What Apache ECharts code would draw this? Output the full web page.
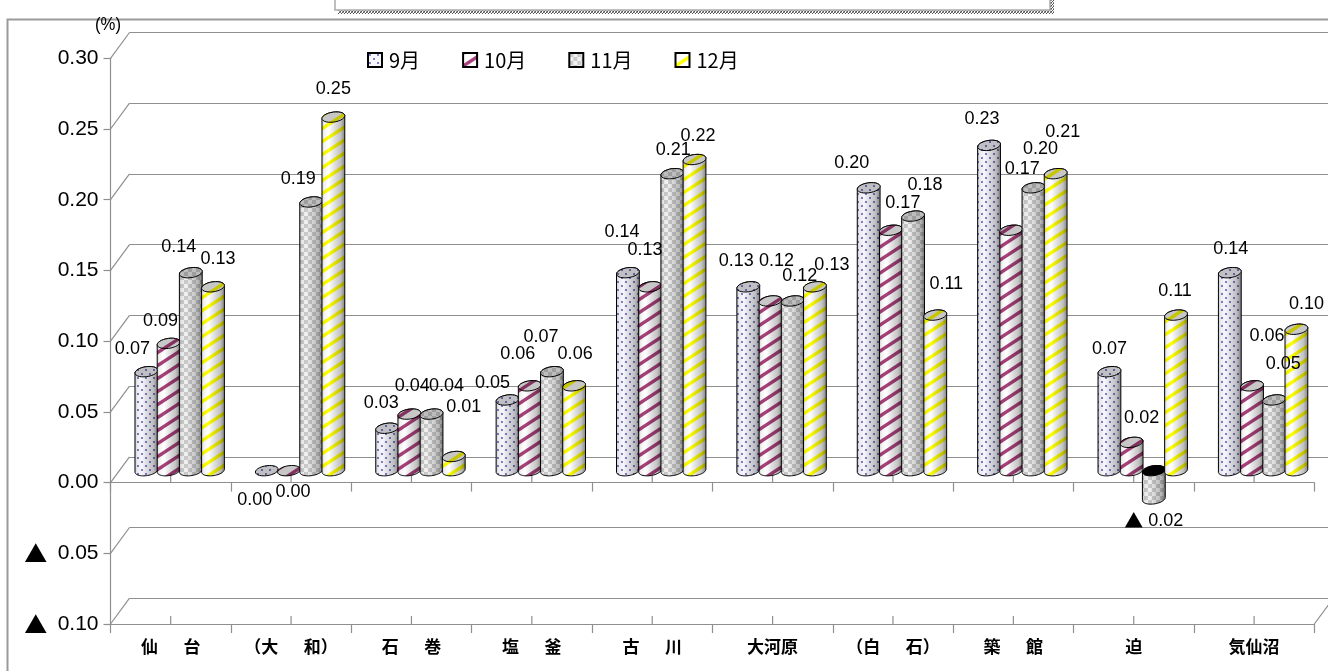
<!DOCTYPE html>
<html><head><meta charset="utf-8">
<style>html,body{margin:0;padding:0;background:#fff}#c{width:1328px;height:671px}</style>
<script src="https://cdn.jsdelivr.net/npm/echarts@6/dist/echarts.min.js"></script>
</head><body><div id="c"></div>
<script>
const categories = ['仙\u3000\u2002台','（大\u3000\u2002和）','石\u3000\u2002巻','塩\u3000\u2002釜','古\u3000\u2002川','大河原','（白\u3000\u2002石）','築\u3000\u2002館','迫','気仙沼'];
const months = ['9月','10月','11月','12月'];
const sep = [0.07,0.00,0.03,0.05,0.14,0.13,0.20,0.23,0.07,0.14];
const oct = [0.09,0.00,0.04,0.06,0.13,0.12,0.17,0.17,0.02,0.06];
const nov = [0.14,0.19,0.04,0.07,0.21,0.12,0.18,0.20,-0.02,0.05];
const dec = [0.13,0.25,0.01,0.06,0.22,0.13,0.11,0.21,0.11,0.10];
const seriesValues = [sep,oct,nov,dec];
const gridTicks = [0.30,0.25,0.20,0.15,0.10,0.05,0,-0.05,-0.10];

// layout only: nudge of each value label from its bar top
const labelNudgeSep = [[-14,-23],[-12,29],[-6,-25],[-15,-17],[-6,-41],[-12,-26],[-17,-25],[-7,-26],[0,-23],[1,-24]];
const labelNudgeOct = [[-8,-22],[4,21],[3,-28],[-12,-32],[-5,-37],[6,-40],[12,-27],[11,-61],[10,-24],[15,-50]];
const labelNudgeNov = [[-12,-26],[-13,-23],[15,-28],[-11,-35],[1,-24],[7,-25],[12,-31],[7,-39],[0,22],[9,-36]];
const labelNudgeDec = [[5,-28],[0,-28],[10,-50],[1,-32],[3.5,-23.5],[17,-22],[11,-31],[7,-42],[-1,-24],[10,-25]];
const labelNudges = [labelNudgeSep,labelNudgeOct,labelNudgeNov,labelNudgeDec];

const DEPTH_X = 19, DEPTH_Y = 25.8, BAR_DX = 9, BAR_DY = -11.9, STEP = 22.2, RX = 11.4, RY = 5, TILT = 1.4;
const GRID_COLOR = '#8f8f8f';
const FONT = '"Liberation Sans", Arial, sans-serif';
const CJK = '"Noto Sans CJK JP", sans-serif';

function tile(w,h,draw){const c=document.createElement('canvas');c.width=w;c.height=h;const g=c.getContext('2d');g.fillStyle='#fff';g.fillRect(0,0,w,h);draw(g);return c;}
function stripes(color){return tile(20,13,g=>{g.strokeStyle=color;g.lineWidth=3.4;for(const o of [-20,0,20]){g.beginPath();g.moveTo(o-2,13+1.3);g.lineTo(o+22,-1.3);g.stroke();}
  });}
const patterns = [
  tile(8,8,g=>{g.fillStyle='#f6f6fc';g.fillRect(0,0,8,8);g.fillStyle='#7f7fc8';g.fillRect(1,1,2,2);g.fillRect(5,5,2,2);}),
  stripes('#a8407a'),
  tile(8,8,g=>{g.fillStyle='#f2f2f2';g.fillRect(0,0,8,8);g.fillStyle='#cbcbcb';g.fillRect(0,0,4,4);g.fillRect(4,4,4,4);}),
  stripes('#ffff00')
].map(c=>({image:c,repeat:'repeat'}));
const hatch = {image:tile(3,3,g=>{g.fillStyle='#555';g.fillRect(0,0,1,1);g.fillRect(2,1,1,1);g.fillRect(1,2,1,1);g.fillStyle='#999';g.fillRect(1,0,1,1);g.fillRect(0,2,1,1);}),repeat:'repeat'};

function ell(cx,cy,t){return [cx+RX*Math.cos(t), cy+RY*Math.sin(t)-TILT*Math.cos(t)];}
function arc(cx,cy,a,b){const p=[];for(let i=0;i<=28;i++)p.push(ell(cx,cy,a+(b-a)*i/28));return p;}

function barRenderer(s){
  return function(params,api){
    const c=api.value(0), v=api.value(1);
    const p=api.coord([c,v]), z=api.coord([c,0]);
    const cx=p[0]+BAR_DX+(s-1.5)*STEP;
    const vy=p[1]+BAR_DY, zy=z[1]+BAR_DY;
    const top=Math.min(vy,zy), bot=Math.max(vy,zy);
    const bodyPts=[...arc(cx,bot,Math.PI,0),...arc(cx,top,0,-Math.PI)];
    const topPts=arc(cx,top,0,Math.PI*2);
    const shade=new echarts.graphic.LinearGradient(0,0,1,0,[
      {offset:0,color:'rgba(0,0,0,0.2)'},{offset:0.12,color:'rgba(0,0,0,0.05)'},
      {offset:0.3,color:'rgba(0,0,0,0)'},{offset:0.55,color:'rgba(0,0,0,0.12)'},
      {offset:0.8,color:'rgba(0,0,0,0.24)'},{offset:1,color:'rgba(0,0,0,0.5)'}]);
    const children=[];
    if(bot-top>0.5){
      children.push({type:'polygon',shape:{points:bodyPts},style:{fill:patterns[s]}});
      children.push({type:'polygon',shape:{points:bodyPts},style:{fill:shade,stroke:'#000',lineWidth:1}});
    }
    if(v<0){
      children.push({type:'polygon',shape:{points:topPts},style:{fill:'#000',stroke:'#000',lineWidth:1}});
    }else{
      children.push({type:'polygon',shape:{points:topPts},style:{fill:patterns[s]}});
      children.push({type:'polygon',shape:{points:topPts},style:{fill:'rgba(0,0,0,0.22)',stroke:'#000',lineWidth:1}});
    }
    return {type:'group',children};
  };
}
const barSeries = months.map((m,s)=>({
  type:'custom',name:m,coordinateSystem:'cartesian2d',xAxisIndex:0,yAxisIndex:0,z:5,clip:false,silent:true,
  itemStyle:{color:patterns[s],borderColor:'#000',borderWidth:1},
  renderItem:barRenderer(s),
  encode:{x:0,y:1},
  data:seriesValues[s].map((v,c)=>[c,v])
}));

const labelData=[];
seriesValues.forEach((vals,s)=>vals.forEach((v,c)=>labelData.push([c,v,s])));
const labelSeries={type:'custom',name:'values',z:8,clip:false,silent:true,xAxisIndex:0,yAxisIndex:0,encode:{x:0,y:1},
  renderItem(params,api){
    const c=api.value(0),v=api.value(1),s=api.value(2);
    const p=api.coord([c,v]);const n=labelNudges[s][c];
    const num=Math.abs(v).toFixed(2);
    return {type:'text',style:{text:v<0?'{t|▲} '+num:num,rich:{t:{fontFamily:CJK,fontSize:19,fill:'#000'}},x:p[0]+BAR_DX+(s-1.5)*STEP+n[0],y:p[1]+BAR_DY+n[1],
      textAlign:'center',textVerticalAlign:'middle',fill:'#000',font:'18px '+FONT}};
  },data:labelData};

const wallSeries={type:'custom',name:'walls',z:1,clip:false,silent:true,xAxisIndex:0,yAxisIndex:0,encode:{y:1},
  renderItem(params,api){
    const v=api.value(1);const y=api.coord([0,v])[1];const cs=params.coordSys;
    const kids=[{type:'line',shape:{x1:cs.x,y1:y,x2:cs.x+DEPTH_X,y2:y-DEPTH_Y},style:{stroke:GRID_COLOR,lineWidth:1.2}}];
    if(v===gridTicks[gridTicks.length-1])kids.push({type:'line',shape:{x1:cs.x+cs.width,y1:y,x2:cs.x+cs.width+DEPTH_X,y2:y-DEPTH_Y},style:{stroke:GRID_COLOR,lineWidth:1.2}});
    return {type:'group',children:kids};
  },data:gridTicks.map(v=>[0,v])};
const midTickSeries={type:'custom',name:'midticks',z:2,clip:false,silent:true,xAxisIndex:0,yAxisIndex:0,encode:{x:0},
  renderItem(params,api){
    const c=api.value(0);
    const a=api.coord([c,0]),b=api.coord([c,gridTicks[gridTicks.length-1]]);
    return {type:'group',children:[a,b].map(p=>({type:'line',shape:{x1:p[0],y1:p[1],x2:p[0],y2:p[1]-8},style:{stroke:GRID_COLOR,lineWidth:1.2}}))};
  },data:categories.map((n,c)=>[c,0])};

const chart=echarts.init(document.getElementById('c'),null,{renderer:'canvas'});
const axisGray={lineStyle:{color:GRID_COLOR,width:1.2}};
chart.setOption({
  animation:false,backgroundColor:'#fff',
  grid:[
    {left:110.5,top:58.3,width:1203.8,height:565.7},
    {left:110.5+DEPTH_X,top:58.3-DEPTH_Y,width:1204,height:565.7}
  ],
  legend:{data:months,left:362,top:45,icon:'rect',itemWidth:14,itemHeight:14,itemGap:42,
    textStyle:{fontFamily:CJK,fontSize:20,color:'#000',padding:[0,0,0,2]},selectedMode:false},
  xAxis:[
    {type:'category',gridIndex:0,data:categories,position:'bottom',axisLine:{show:true,onZero:false,...axisGray},
      axisTick:{show:true,interval:0,length:9,alignWithLabel:false,...axisGray},
      axisLabel:{interval:0,margin:14,fontFamily:CJK,fontWeight:'bold',fontSize:17,color:'#000'}},
    {type:'category',gridIndex:0,data:categories,position:'bottom',axisLine:{show:true,onZero:true,...axisGray},
      axisTick:{show:true,interval:0,length:9,...axisGray},axisLabel:{show:false}},
    {type:'category',gridIndex:1,data:categories,show:false}
  ],
  yAxis:[
    {type:'value',gridIndex:0,min:-0.10,max:0.30,interval:0.05,
      axisLine:{show:true,onZero:false,...axisGray},axisTick:{show:true,length:7,...axisGray},splitLine:{show:false},
      axisLabel:{margin:12,color:'#000',fontFamily:FONT,fontSize:21,
        rich:{t:{fontFamily:CJK,fontSize:23,color:'#000'},n:{fontFamily:FONT,fontSize:21,color:'#000'}},
        formatter:v=>v<-1e-9?'{t|▲}{n|\u2002'+Math.abs(v).toFixed(2)+'}':'{n|'+Math.abs(v).toFixed(2)+'}'}},
    {type:'value',gridIndex:1,min:-0.10,max:0.30,interval:0.05,
      axisLine:{show:false},axisTick:{show:false},axisLabel:{show:false},
      splitLine:{show:true,lineStyle:{color:GRID_COLOR,width:1.2}}}
  ],
  graphic:[
    {type:'rect',z:-5,silent:true,shape:{x:7.5,y:19.5,width:1400,height:800},style:{fill:'none',stroke:'#9a9a9a',lineWidth:2}},
    {type:'rect',z:-5,silent:true,shape:{x:338,y:-5,width:716,height:19},style:{fill:hatch}},
    {type:'rect',z:-4,silent:true,shape:{x:335,y:-6,width:715,height:16},style:{fill:'#fff',stroke:'#aaa',lineWidth:1.5}},
    {type:'text',z:20,silent:true,x:108,y:25,scaleX:0.88,style:{text:'(%)',textAlign:'center',textVerticalAlign:'middle',font:'19px '+FONT,fill:'#000'}}
  ],
  series:[wallSeries,midTickSeries,...barSeries,labelSeries]
});
</script></body></html>
